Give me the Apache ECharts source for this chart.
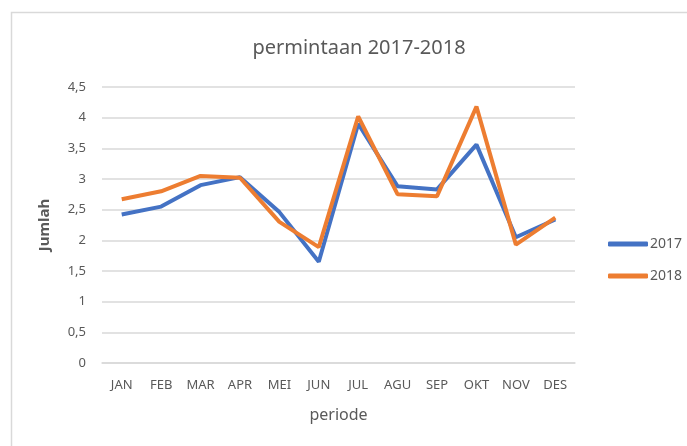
<!DOCTYPE html>
<html>
<head>
<meta charset="utf-8">
<script src="https://cdn.jsdelivr.net/npm/echarts@6/dist/echarts.min.js"></script>
<style>
	html, body { margin: 0; padding: 0; width: 100%; height: 100%; background: #fff; }
	#chartLineBox { width: 687px; height: 446px; }
</style>
</head>
<body>
<div id="chartLineBox"></div>
<script>
	// data
	var months = ['JAN', 'FEB', 'MAR', 'APR', 'MEI', 'JUN', 'JUL', 'AGU', 'SEP', 'OKT', 'NOV', 'DES'];
	var data2017 = [2.42, 2.55, 2.9, 3.03, 2.46, 1.65, 3.9, 2.88, 2.83, 3.56, 2.05, 2.34];
	var data2018 = [2.67, 2.8, 3.05, 3.02, 2.3, 1.89, 4.02, 2.75, 2.72, 4.18, 1.93, 2.37];
	var yTicks = [0, 0.5, 1, 1.5, 2, 2.5, 3, 3.5, 4, 4.5];

	var fontName = '"Noto Sans", "Open Sans", sans-serif';
	var chartLine = echarts.init(document.getElementById('chartLineBox'));
	var option = {
		backgroundColor: '#fff',
		color: ['#4472C4', '#ED7D31'],
		textStyle: { fontFamily: fontName },
		title: {
			text: 'permintaan 2017-2018',
			left: 354,
			textAlign: 'center',
			top: 33,
			textStyle: { color: '#595959', fontSize: 20, fontWeight: 'normal', fontFamily: fontName }
		},
		graphic: [{
			type: 'rect',
			shape: { x: 11.5, y: 12.5, width: 700, height: 460 },
			style: { fill: 'none', stroke: '#d9d9d9', lineWidth: 1.5 },
			silent: true
		}],
		legend: {
			orient: 'vertical',
			left: 603,
			top: 232,
			itemWidth: 40,
			itemHeight: 5,
			itemGap: 18,
			icon: 'roundRect',
			textStyle: { color: '#595959', fontSize: 14, padding: [0, 0, 0, -3] },
			data: ['2017', '2018']
		},
		grid: { left: 102, right: 112, top: 87, bottom: 83, containLabel: false },
		xAxis: {
			type: 'category',
			data: months,
			boundaryGap: true,
			name: 'periode',
			nameLocation: 'middle',
			nameGap: 44,
			nameTextStyle: { color: '#595959', fontSize: 16 },
			axisLine: { lineStyle: { color: '#d9d9d9', width: 1.5 } },
			axisTick: { show: false },
			axisLabel: { color: '#595959', fontSize: 13, margin: 16, interval: 0 }
		},
		yAxis: {
			type: 'value',
			min: yTicks[0],
			max: yTicks[yTicks.length - 1],
			interval: 0.5,
			name: 'Jumlah',
			nameLocation: 'middle',
			nameGap: 50,
			nameTextStyle: { color: '#595959', fontSize: 15, fontWeight: 'bold' },
			axisLine: { show: false },
			axisTick: { show: false },
			splitLine: { lineStyle: { color: '#d9d9d9', width: 1.5 } },
			axisLabel: {
				color: '#595959', fontSize: 13, margin: 16,
				formatter: function (v) { return String(v).replace('.', ','); }
			}
		},
		series: [{
			name: '2017',
			type: 'line',
			data: data2017,
			symbol: 'none',
			lineStyle: { width: 4, color: '#4472C4' }
		}, {
			name: '2018',
			type: 'line',
			data: data2018,
			symbol: 'none',
			lineStyle: { width: 4, color: '#ED7D31' }
		}]
	};
	chartLine.setOption(option);
</script>
</body>
</html>
